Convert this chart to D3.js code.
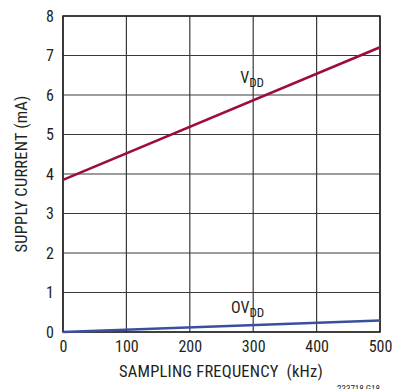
<!DOCTYPE html>
<html>
<head>
<meta charset="utf-8">
<script src="https://cdn.jsdelivr.net/npm/d3@7"></script>
<style>
  body { margin: 0; background: #fff; }
  text { font-family: "Liberation Sans Narrow", "Roboto Condensed", "Liberation Sans", sans-serif; fill: #231f20; }
</style>
</head>
<body>
<svg id="chart" width="393" height="389"></svg>
<script>
// sampling frequency (kHz) vs supply current (mA)
var freq = [0, 500];
var vdd = [3.85, 7.21];
var ovdd = [0, 0.29];
var xTicks = [0, 100, 200, 300, 400, 500];
var yTicks = [0, 1, 2, 3, 4, 5, 6, 7, 8];

var margin = {left: 63, top: 16, right: 13, bottom: 57};
var width = 393 - margin.left - margin.right;
var height = 389 - margin.top - margin.bottom;

var svg = d3.select('#chart');
var g = svg.append('g').attr('transform', `translate(${margin.left},${margin.top})`);

var x = d3.scaleLinear().domain([0, 500]).range([0, width]);
var y = d3.scaleLinear().domain([0, 8]).range([height, 0]);

// grid
g.selectAll('line.vgrid')
  .data(xTicks)
  .enter()
  .append('line')
  .attr('x1', d => x(d)).attr('x2', d => x(d))
  .attr('y1', 0).attr('y2', height)
  .style('stroke', '#3a3a3a')
  .style('stroke-width', 1.2);

g.selectAll('line.hgrid')
  .data(yTicks)
  .enter()
  .append('line')
  .attr('y1', d => y(d)).attr('y2', d => y(d))
  .attr('x1', 0).attr('x2', width)
  .style('stroke', '#3a3a3a')
  .style('stroke-width', 1.2);

g.append('rect')
  .attr('width', width).attr('height', height)
  .style('fill', 'none')
  .style('stroke', '#231f20')
  .style('stroke-width', 1.5);

// tick labels
var xAxis = d3.axisBottom(x).tickValues(xTicks).tickSize(0).tickPadding(9);
var yAxis = d3.axisLeft(y).tickValues(yTicks).tickSize(0).tickPadding(9);

g.append('g').attr('transform', `translate(0,${height})`).call(xAxis)
  .call(a => a.select('.domain').remove())
  .selectAll('text').style('font-size', '16px').attr('fill', '#231f20');

g.append('g').call(yAxis)
  .call(a => a.select('.domain').remove())
  .selectAll('text').style('font-size', '16px').attr('fill', '#231f20');

// series
var line = d3.line().x(d => x(d[0])).y(d => y(d[1]));

g.append('path')
  .datum(d3.zip(freq, vdd))
  .attr('d', line)
  .style('fill', 'none')
  .style('stroke', '#9b0d3c')
  .style('stroke-width', 2.6);

g.append('path')
  .datum(d3.zip(freq, ovdd))
  .attr('d', line)
  .style('fill', 'none')
  .style('stroke', '#3b4f9f')
  .style('stroke-width', 2.6);

// series labels
function subLabel(main, sub, px, py) {
  var t = g.append('text').attr('x', px).attr('y', py).style('font-size', '16px');
  t.append('tspan').text(main);
  t.append('tspan').attr('dy', 3.5).style('font-size', '13px').text(sub);
}
subLabel('V', 'DD', x(279.5), y(6.30));
subLabel('OV', 'DD', x(265), y(0.48));

// titles
svg.append('text')
  .attr('x', 221)
  .attr('y', 377)
  .attr('text-anchor', 'middle')
  .style('font-size', '16.5px')
  .style('white-space', 'pre')
  .style('letter-spacing', '0.2px')
  .text('SAMPLING FREQUENCY  (kHz)');

svg.append('text')
  .attr('transform', `translate(27,${margin.top + height / 2}) rotate(-90)`)
  .attr('text-anchor', 'middle')
  .style('font-size', '16.5px')
  .style('letter-spacing', '0.2px')
  .text('SUPPLY CURRENT (mA)');

svg.append('text')
  .attr('x', 380)
  .attr('y', 392)
  .attr('text-anchor', 'end')
  .style('font-size', '9px')
  .text('233718 G18');
</script>
</body>
</html>
